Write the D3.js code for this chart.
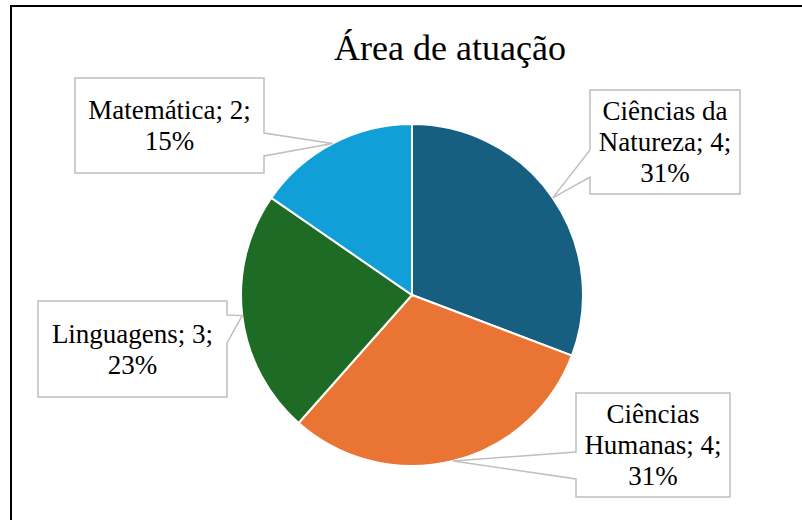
<!DOCTYPE html>
<html>
<head>
<meta charset="utf-8">
<script src="https://cdn.jsdelivr.net/npm/d3@7"></script>
<style>
  body { margin: 0; background: #fff; }
  svg { display: block; }
</style>
</head>
<body>
<svg width="802" height="520"></svg>
<script>
// data
const title = "Área de atuação";
const categories = ["Ciências da Natureza", "Ciências Humanas", "Linguagens", "Matemática"];
const values = [4, 4, 3, 2];
const colors = ["#175f81", "#ea7434", "#1d6b25", "#119fd8"];

// label box layout (position of each callout box, and where its pointer leaves the box)
const boxes = [
  { x: 590, y: 90, w: 150, h: 104, side: "left", p0: 60, p1: 87 },
  { x: 576, y: 393, w: 154, h: 104, side: "left", p0: 59, p1: 86 },
  { x: 38, y: 301, w: 189, h: 96, side: "right", p0: 14, p1: 42 },
  { x: 75, y: 78, w: 189, h: 95, side: "right", p0: 55, p1: 78 }
];

const FONT = "'Liberation Serif', 'Times New Roman', serif";
const svg = d3.select("svg");
const cx = 412, cy = 295, r = 171;

// outer chart border (only top and left are inside the picture)
svg.append("rect")
  .attr("x", 11).attr("y", 6)
  .attr("width", 900).attr("height", 600)
  .attr("fill", "none").attr("stroke", "#000").attr("stroke-width", 2);

svg.append("text")
  .attr("x", 450).attr("y", 60)
  .attr("text-anchor", "middle")
  .attr("font-family", FONT)
  .attr("font-size", 36)
  .text(title);

const data = categories.map((c, i) => ({ name: c, value: values[i], color: colors[i] }));
const total = d3.sum(values);

const pie = d3.pie().sort(null).value(d => d.value);
const arcs = pie(data);
const arc = d3.arc().innerRadius(0).outerRadius(r);
const edge = d3.arc().innerRadius(r).outerRadius(r);

const g = svg.append("g").attr("transform", `translate(${cx},${cy})`);
g.selectAll("path.slice")
  .data(arcs)
  .enter()
  .append("path")
  .attr("class", "slice")
  .attr("d", arc)
  .attr("fill", d => d.data.color)
  .attr("stroke", "#fff")
  .attr("stroke-width", 2);

// callout boxes
const measure = svg.append("text")
  .attr("font-family", FONT)
  .attr("font-size", 27)
  .attr("visibility", "hidden");
function textWidth(s) {
  measure.text(s);
  return measure.node().getComputedTextLength();
}
function wrap(words, maxW) {
  const lines = [];
  let cur = "";
  words.forEach(w => {
    const t = cur ? cur + " " + w : w;
    if (cur && textWidth(t) > maxW) { lines.push(cur); cur = w; }
    else cur = t;
  });
  if (cur) lines.push(cur);
  return lines;
}

arcs.forEach((d, i) => {
  const b = boxes[i];
  const tip = edge.centroid(d);
  const tx = cx + tip[0], ty = cy + tip[1];
  let p;
  if (b.side === "left") {
    p = `M${b.x},${b.y}H${b.x + b.w}V${b.y + b.h}H${b.x}V${b.y + b.p1}L${tx},${ty}L${b.x},${b.y + b.p0}Z`;
  } else {
    p = `M${b.x},${b.y}H${b.x + b.w}V${b.y + b.p0}L${tx},${ty}L${b.x + b.w},${b.y + b.p1}V${b.y + b.h}H${b.x}Z`;
  }
  svg.append("path")
    .attr("d", p)
    .attr("fill", "#fff")
    .attr("stroke", "#bfbfbf")
    .attr("stroke-width", 1.5);

  const pct = Math.round(d.data.value / total * 100) + "%";
  const words = (d.data.name + "; " + d.data.value + "; " + pct).split(" ");
  const lines = wrap(words, b.w - 12);
  const lh = 31;
  const y0 = b.y + b.h / 2 - (lines.length - 1) * lh / 2 + 9;
  const t = svg.append("text")
    .attr("font-family", FONT)
    .attr("font-size", 27)
    .attr("text-anchor", "middle");
  lines.forEach((l, k) => {
    t.append("tspan")
      .attr("x", b.x + b.w / 2)
      .attr("y", y0 + k * lh)
      .text(l);
  });
});
measure.remove();
</script>
</body>
</html>
